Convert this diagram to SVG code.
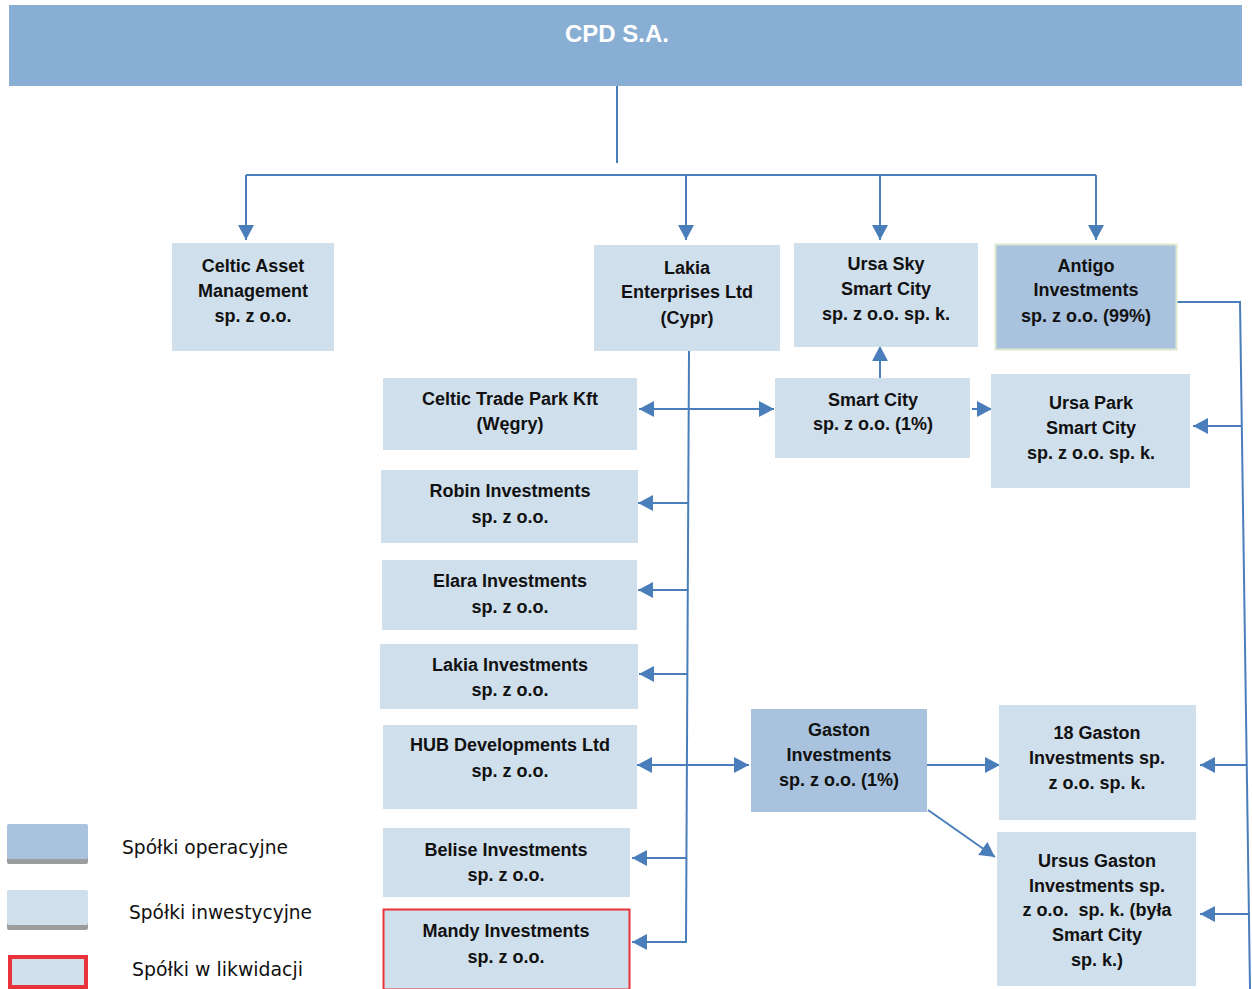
<svg xmlns="http://www.w3.org/2000/svg" width="1252" height="989" viewBox="0 0 1252 989">
<style>
.inv{fill:#d0dfec}
.op{fill:#a9c3de}
.t{font-family:"Liberation Sans",Arial,sans-serif;font-weight:bold;font-size:18px;fill:#111;text-anchor:middle}
.lg{font-family:"DejaVu Sans",Tahoma,sans-serif;font-size:20px;fill:#111}
.c{fill:none;stroke:#4a7ebb;stroke-width:2}
.a{marker-end:url(#ah)}
</style>
<defs>
<marker id="ah" markerUnits="userSpaceOnUse" markerWidth="16" markerHeight="16" viewBox="0 0 16 16" refX="15" refY="8" orient="auto">
<path d="M0 0 L15 8 L0 16 Z" fill="#4a7ebb"/>
</marker>
</defs>
<rect width="1252" height="989" fill="#fff"/>

<g id="cpd">
<rect x="9" y="5" width="1233" height="81" fill="#88aed3"/>
<text x="617" y="42" text-anchor="middle" font-family="'Liberation Sans',Arial,sans-serif" font-weight="bold" font-size="24" fill="#fff">CPD S.A.</text>
</g>

<g id="connectors">
<path class="c" d="M617 86 V163"/>
<path class="c" d="M246 175 H1096" stroke-width="2.5"/>
<path class="c a" d="M246 175 V240"/>
<path class="c a" d="M686 175 V240"/>
<path class="c a" d="M880 175 V240"/>
<path class="c a" d="M1096 175 V240"/>
<path class="c" d="M689 351 L686 943"/>
<path class="c a" d="M688 409 H639"/>
<path class="c a" d="M688 409 H774"/>
<path class="c a" d="M688 503 H638"/>
<path class="c a" d="M687 590 H638"/>
<path class="c a" d="M687 674 H639"/>
<path class="c a" d="M687 765 H637"/>
<path class="c a" d="M687 765 H749"/>
<path class="c a" d="M686 858 H632"/>
<path class="c a" d="M686 942 H632"/>
<path class="c a" d="M880 378 V346"/>
<path class="c a" d="M972 409 H992"/>
<path class="c" d="M1177 302 H1240 L1250 989"/>
<path class="c a" d="M1241 426 H1193"/>
<path class="c a" d="M1246 765 H1200"/>
<path class="c a" d="M1250 914 H1200"/>
<path class="c a" d="M927 765 H1000"/>
<path class="c a" d="M928 810 L995 857"/>
</g>

<g id="celtic-asset">
<rect class="inv" x="172" y="243" width="162" height="108"/>
<text class="t" x="253" y="272">Celtic Asset</text>
<text class="t" x="253" y="297">Management</text>
<text class="t" x="253" y="322">sp. z o.o.</text>
</g>
<g id="lakia-enterprises">
<rect class="inv" x="594" y="245" width="186" height="106"/>
<text class="t" x="687" y="274">Lakia</text>
<text class="t" x="687" y="298">Enterprises Ltd</text>
<text class="t" x="687" y="324">(Cypr)</text>
</g>
<g id="ursa-sky">
<rect class="inv" x="794" y="243" width="184" height="104"/>
<text class="t" x="886" y="270">Ursa Sky</text>
<text class="t" x="886" y="295">Smart City</text>
<text class="t" x="886" y="320">sp. z o.o. sp. k.</text>
</g>
<g id="antigo">
<rect class="op" x="995.5" y="244.5" width="181" height="105" stroke="#dce9cf" stroke-width="2"/>
<text class="t" x="1086" y="272">Antigo</text>
<text class="t" x="1086" y="296">Investments</text>
<text class="t" x="1086" y="322">sp. z o.o. (99%)</text>
</g>
<g id="celtic-trade-park">
<rect class="inv" x="383" y="378" width="254" height="72"/>
<text class="t" x="510" y="405">Celtic Trade Park Kft</text>
<text class="t" x="510" y="430">(Węgry)</text>
</g>
<g id="robin">
<rect class="inv" x="381" y="470" width="257" height="73"/>
<text class="t" x="510" y="497">Robin Investments</text>
<text class="t" x="510" y="523">sp. z o.o.</text>
</g>
<g id="elara">
<rect class="inv" x="382" y="560" width="255" height="70"/>
<text class="t" x="510" y="587">Elara Investments</text>
<text class="t" x="510" y="613">sp. z o.o.</text>
</g>
<g id="lakia-investments">
<rect class="inv" x="380" y="644" width="258" height="65"/>
<text class="t" x="510" y="671">Lakia Investments</text>
<text class="t" x="510" y="696">sp. z o.o.</text>
</g>
<g id="hub">
<rect class="inv" x="383" y="725" width="254" height="84"/>
<text class="t" x="510" y="751">HUB Developments Ltd</text>
<text class="t" x="510" y="777">sp. z o.o.</text>
</g>
<g id="belise">
<rect class="inv" x="383" y="828" width="247" height="69"/>
<text class="t" x="506" y="856">Belise Investments</text>
<text class="t" x="506" y="881">sp. z o.o.</text>
</g>
<g id="mandy">
<rect class="inv" x="383.5" y="909.5" width="246" height="80" stroke="#e8333b" stroke-width="2"/>
<text class="t" x="506" y="937">Mandy Investments</text>
<text class="t" x="506" y="963">sp. z o.o.</text>
</g>
<g id="smart-city">
<rect class="inv" x="775" y="378" width="195" height="80"/>
<text class="t" x="873" y="406">Smart City</text>
<text class="t" x="873" y="430">sp. z o.o. (1%)</text>
</g>
<g id="ursa-park">
<rect class="inv" x="991" y="374" width="199" height="114"/>
<text class="t" x="1091" y="409">Ursa Park</text>
<text class="t" x="1091" y="434">Smart City</text>
<text class="t" x="1091" y="459">sp. z o.o. sp. k.</text>
</g>
<g id="gaston">
<rect class="op" x="751" y="709" width="176" height="103"/>
<text class="t" x="839" y="736">Gaston</text>
<text class="t" x="839" y="761">Investments</text>
<text class="t" x="839" y="786">sp. z o.o. (1%)</text>
</g>
<g id="gaston18">
<rect class="inv" x="999" y="705" width="197" height="115"/>
<text class="t" x="1097" y="739">18 Gaston</text>
<text class="t" x="1097" y="764">Investments sp.</text>
<text class="t" x="1097" y="789">z o.o. sp. k.</text>
</g>
<g id="ursus-gaston">
<rect class="inv" x="997" y="832" width="199" height="154"/>
<text class="t" x="1097" y="867">Ursus Gaston</text>
<text class="t" x="1097" y="892">Investments sp.</text>
<text class="t" x="1097" y="916" xml:space="preserve">z o.o.  sp. k. (była</text>
<text class="t" x="1097" y="941">Smart City</text>
<text class="t" x="1097" y="966">sp. k.)</text>
</g>

<g id="legend">
<rect x="7" y="826" width="81" height="38" rx="2" fill="#9a9c9e"/>
<rect x="7" y="824" width="81" height="35" rx="2" fill="#a9c3de"/>
<text class="lg" x="122" y="854" textLength="166" lengthAdjust="spacingAndGlyphs">Spółki operacyjne</text>
<rect x="7" y="892" width="81" height="38" rx="2" fill="#9a9c9e"/>
<rect x="7" y="890" width="81" height="35" rx="2" fill="#d0dfec"/>
<text class="lg" x="129" y="919" textLength="183" lengthAdjust="spacingAndGlyphs">Spółki inwestycyjne</text>
<rect x="10" y="957" width="76" height="30" fill="#d0dfec" stroke="#e8333b" stroke-width="4"/>
<text class="lg" x="132" y="976" textLength="171" lengthAdjust="spacingAndGlyphs">Spółki w likwidacji</text>
</g>
</svg>
